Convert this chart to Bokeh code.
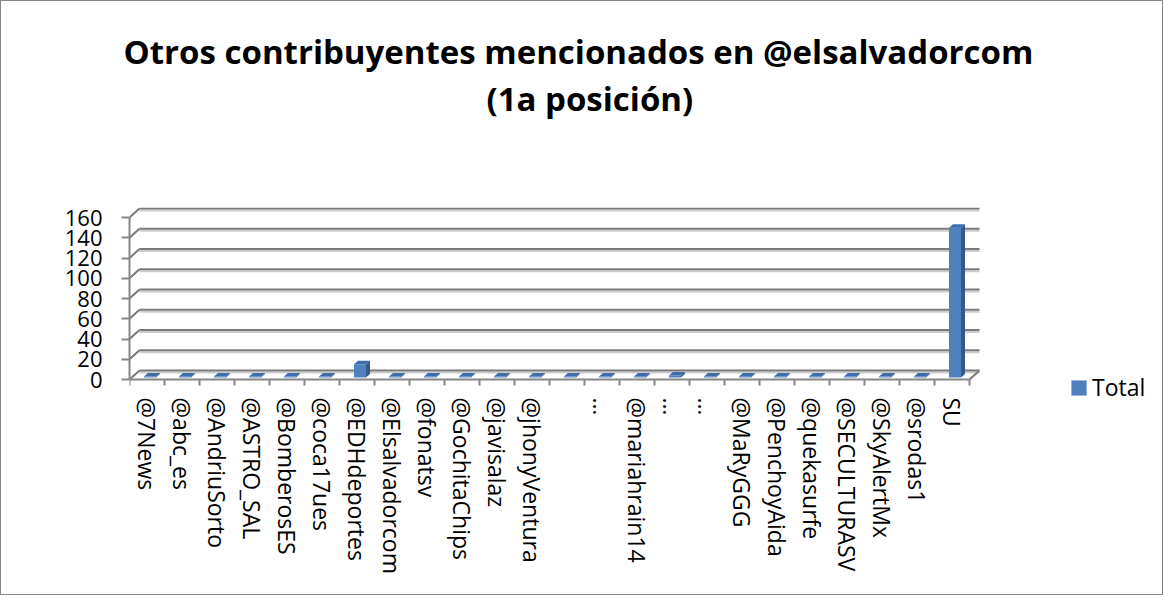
import numpy as np
from bokeh.plotting import figure
from bokeh.models import Range1d, FixedTicker, LinearAxis, Legend, LegendItem, Title
from bokeh.embed import file_html
from bokeh.resources import INLINE

# ---------------- data ----------------
categories = ["@7News", "@abc_es", "@AndriuSorto", "@ASTRO_SAL", "@BomberosES",
              "@coca17ues", "@EDHdeportes", "@Elsalvadorcom", "@fonatsv",
              "@GochitaChips", "@javisalaz", "@jhonyVentura", "", "\u2026",
              "@mariahrain14", "\u2026", "\u2026", "@MaRyGGG", "@PenchoyAida",
              "@quekasurfe", "@SECULTURASV", "@SkyAlertMx", "@srodas1", "SU"]
totals = [1, 1, 1, 1, 1, 1, 13, 1, 1, 1, 1, 1, 1, 1, 1, 2, 1, 1, 1, 1, 1, 1, 1, 148]
y_ticks = [0, 20, 40, 60, 80, 100, 120, 140, 160]
series_name = "Total"
title_line1 = "Otros contribuyentes mencionados en @elsalvadorcom"
title_line2 = "(1a posici\u00f3n)"

# ---------------- geometry / style ----------------
n = len(categories)
PX_X = 35.0            # pixels per category
PX_Y = 162.0 / 160.0   # pixels per unit
FRAME_W = 1033
FRAME_TOP_PX = 172     # pixels above the zero line
FRAME_BOT_PX = 26      # pixels below the zero line (room for legend)
X_END = FRAME_W / PX_X
Y_END = FRAME_TOP_PX / PX_Y
Y_START = -FRAME_BOT_PX / PX_Y
DX = 10 / PX_X         # 3d depth offset (x, data units)
DY = 9 / PX_Y          # 3d depth offset (y, data units)
BW = 12 / PX_X         # bar front width
BOFF = 3 / PX_X        # bar shift right
BY = 2 / PX_Y          # bar base above front floor
DDX = 4 / PX_X         # bar depth x
DDY = 3.5 / PX_Y       # bar depth y
TICK = 6 / PX_Y        # category tick length

FONT = "Open Sans"
GRID = "#7a7a7a"
GRID_SH = "#cccccc"
AXIS = "#868686"

W, H = 1163, 595
MB_LEFT, MB_TOP = 128, 206
p = figure(width=W, height=H,
           x_range=Range1d(0, X_END), y_range=Range1d(Y_START, Y_END),
           x_axis_type=None, y_axis_type=None, title=None,
           output_backend="svg", toolbar_location=None,
           min_border_left=MB_LEFT, min_border_right=W - MB_LEFT - FRAME_W,
           min_border_top=MB_TOP,
           min_border_bottom=H - MB_TOP - FRAME_TOP_PX - FRAME_BOT_PX,
           styles={"border": "1px solid #868686"})
p.outline_line_color = None
p.background_fill_color = "white"
p.border_fill_color = "white"

# back wall gridlines + side wall diagonals
ticks = np.array(y_ticks, dtype=float)
sh = 2 / PX_Y
p.segment(x0=[DX] * len(ticks), y0=list(ticks + DY - sh), x1=[n + DX] * len(ticks),
          y1=list(ticks + DY - sh), line_color=GRID_SH, line_width=2)
p.segment(x0=[DX] * len(ticks), y0=list(ticks + DY), x1=[n + DX] * len(ticks),
          y1=list(ticks + DY), line_color=GRID, line_width=2)
p.segment(x0=[0] * len(ticks), y0=list(ticks), x1=[DX] * len(ticks),
          y1=list(ticks + DY), line_color=GRID, line_width=2)
# floor right edge
p.segment(x0=[n], y0=[0], x1=[n + DX], y1=[DY], line_color=GRID, line_width=2)
# floor front edge with category boundary ticks
bounds_x = list(range(n + 1))
p.segment(x0=[0], y0=[0], x1=[n], y1=[0], line_color=AXIS, line_width=2)
p.segment(x0=bounds_x, y0=[0] * (n + 1), x1=bounds_x, y1=[-TICK] * (n + 1),
          line_color=AXIS, line_width=2)

# bars (3d look)
vals = np.array(totals, dtype=float)
centers = np.arange(n) + 0.5
left = centers + BOFF - BW / 2
right = left + BW
top = BY + vals

side_xs = [[r, r + DDX, r + DDX, r] for r in right]
side_ys = [[BY, BY + DDY, BY + DDY + v, BY + v] for v in vals]
top_xs = [[l, l + DDX, r + DDX, r] for l, r in zip(left, right)]
top_ys = [[t, t + DDY, t + DDY, t] for t in top]

p.patches(xs=side_xs, ys=side_ys, fill_color="#34598a", line_color=None)
front = p.quad(left=list(left), right=list(right), bottom=[BY] * n, top=list(top),
               fill_color="#4F81BD", line_color=None)
p.patches(xs=top_xs, ys=top_ys, fill_color="#3f6cab", line_color=None)

# x axis (category labels)
overrides = {float(c): name for c, name in zip(centers, categories)}
xaxis = LinearAxis(ticker=FixedTicker(ticks=list(centers)),
                   bounds=(0, n), major_label_overrides=overrides)
xaxis.axis_line_color = None
xaxis.major_tick_line_color = None
xaxis.major_tick_out = 0
xaxis.major_tick_in = 0
xaxis.minor_tick_line_color = None
xaxis.major_label_orientation = "vertical"
xaxis.major_label_standoff = -(FRAME_BOT_PX - 18)
xaxis.major_label_text_font = FONT
xaxis.major_label_text_font_size = "23px"
xaxis.major_label_text_color = "black"
p.add_layout(xaxis, "below")

# y axis
yaxis = LinearAxis(ticker=FixedTicker(ticks=y_ticks), bounds=(0, 160))
yaxis.axis_line_color = AXIS
yaxis.axis_line_width = 2
yaxis.major_tick_line_color = AXIS
yaxis.major_tick_line_width = 2
yaxis.major_tick_out = 8
yaxis.major_tick_in = 0
yaxis.minor_tick_line_color = None
yaxis.major_label_standoff = 19
yaxis.major_label_text_font = FONT
yaxis.major_label_text_font_size = "22px"
yaxis.major_label_text_color = "black"
p.add_layout(yaxis, "left")

# titles (spacer keeps the two lines away from the plot)
spacer = Title(text=" ", standoff=84, text_font=FONT, text_font_size="1px")
t2 = Title(text=title_line2, align="left", offset=357, standoff=0,
           text_font=FONT, text_font_size="33px", text_font_style="bold", text_color="black")
t1 = Title(text=title_line1, align="left", offset=-6, standoff=0,
           text_font=FONT, text_font_size="33px", text_font_style="bold", text_color="black")
p.add_layout(spacer, "above")
p.add_layout(t2, "above")
p.add_layout(t1, "above")

# legend
legend = Legend(items=[LegendItem(label=series_name, renderers=[front])],
                location=(940, 2), glyph_width=19, glyph_height=19, label_standoff=4,
                padding=0, margin=0, border_line_color=None, background_fill_alpha=0,
                label_text_font=FONT, label_text_font_size="23px", label_text_color="black")
p.add_layout(legend)

open("out.html", "w").write(file_html(p, INLINE))
